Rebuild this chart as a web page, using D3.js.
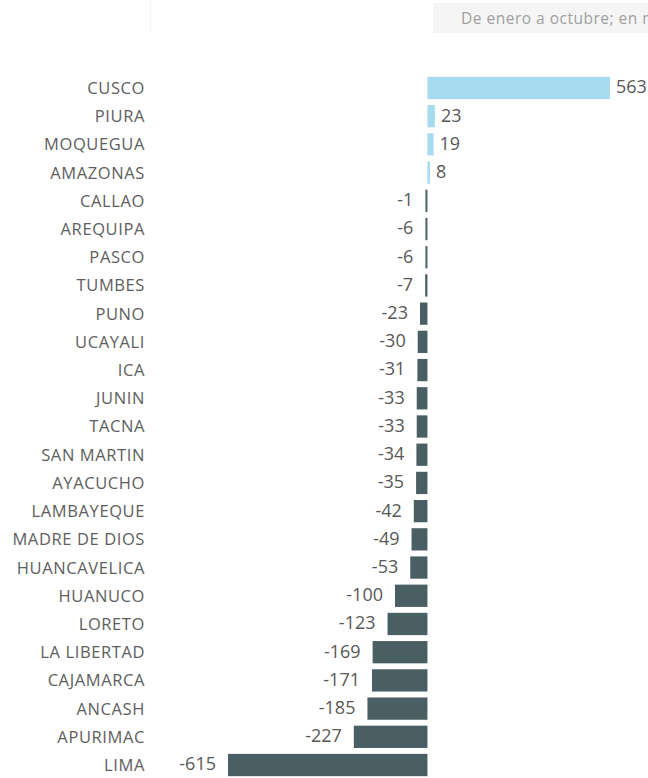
<!DOCTYPE html>
<meta charset="utf-8">
<style>
body { margin: 0; background: #fff; }
.lbl { font: 16.5px "Open Sans", sans-serif; fill: #5e5e5e; letter-spacing: 0.6px; }
.val { font: 18px "Open Sans", sans-serif; fill: #585858; }
.note { font: 15.5px "Open Sans", sans-serif; fill: #a0a0a0; letter-spacing: 0.5px; }
</style>
<head>
<script src="https://cdn.jsdelivr.net/npm/d3@7"></script>
</head>
<body>
<script>
var regions = ["CUSCO","PIURA","MOQUEGUA","AMAZONAS","CALLAO","AREQUIPA","PASCO","TUMBES",
  "PUNO","UCAYALI","ICA","JUNIN","TACNA","SAN MARTIN","AYACUCHO","LAMBAYEQUE",
  "MADRE DE DIOS","HUANCAVELICA","HUANUCO","LORETO","LA LIBERTAD","CAJAMARCA",
  "ANCASH","APURIMAC","LIMA"];
var values = [563,23,19,8,-1,-6,-6,-7,-23,-30,-31,-33,-33,-34,-35,-42,-49,-53,
  -100,-123,-169,-171,-185,-227,-615];
var note = "De enero a octubre; en miles de soles";

var width = 648, height = 778;

var svg = d3.select("body").append("svg")
    .attr("width", width)
    .attr("height", height);

// header strip (cut off at the right edge, as in the original)
svg.append("line")
    .attr("x1", 150.5).attr("x2", 150.5)
    .attr("y1", 0).attr("y2", 33)
    .attr("stroke", "#f4f4f4");
svg.append("rect")
    .attr("x", 433).attr("y", 3)
    .attr("width", 230).attr("height", 30)
    .attr("fill", "#f5f5f5");
svg.append("text")
    .attr("class", "note")
    .attr("x", 461).attr("y", 24)
    .text(note);

var x = d3.scaleLinear()
    .domain([-615, 563])
    .range([228, 610]);

var y = d3.scaleBand()
    .domain(regions)
    .range([74, 779])
    .paddingInner(0.21)
    .paddingOuter(0.1);

var rows = svg.selectAll("g.row")
  .data(regions)
  .enter().append("g")
  .attr("class", "row")
  .attr("transform", function(d) { return "translate(0," + y(d) + ")"; });

rows.append("rect")
  .attr("x", function(d, i) {
    var v = values[i];
    return v >= 0 ? x(0) : Math.min(x(v), x(0) - 2);
  })
  .attr("width", function(d, i) {
    return Math.max(2, Math.abs(x(values[i]) - x(0)));
  })
  .attr("height", y.bandwidth())
  .attr("fill", function(d, i) { return values[i] >= 0 ? "#a7dbf0" : "#4a5f64"; });

rows.append("text")
  .attr("class", "lbl")
  .attr("x", 145)
  .attr("y", y.bandwidth() / 2)
  .attr("dy", "0.36em")
  .attr("text-anchor", "end")
  .text(function(d) { return d; });

rows.append("text")
  .attr("class", "val")
  .attr("x", function(d, i) {
    var v = values[i];
    return v >= 0 ? Math.max(x(v), x(0) + 2) + 6 : Math.min(x(v), x(0) - 2) - 12;
  })
  .attr("y", y.bandwidth() / 2)
  .attr("dy", "0.3em")
  .attr("text-anchor", function(d, i) { return values[i] >= 0 ? "start" : "end"; })
  .text(function(d, i) { return values[i]; });
</script>
</body>
</html>
